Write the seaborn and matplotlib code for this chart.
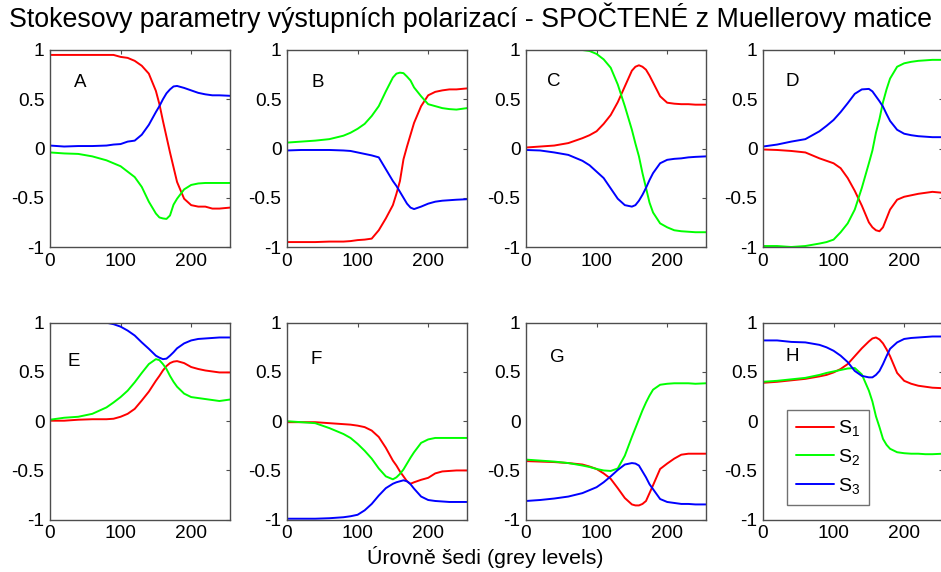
import numpy as np
import pandas as pd
import matplotlib
matplotlib.use("Agg")
import matplotlib.pyplot as plt
import seaborn as sns

# ---------------- data ----------------
GREY = [0, 20, 40, 60, 80, 90, 100, 110, 120, 130, 140, 150, 155, 160, 165,
        170, 175, 180, 190, 200, 210, 220, 230, 240, 255]

A_S1 = [0.95, 0.95, 0.95, 0.95, 0.95, 0.95, 0.93, 0.92, 0.89, 0.84, 0.76, 0.585, 0.45, 0.28, 0.12,
        -0.04, -0.19, -0.34, -0.51, -0.575, -0.59, -0.59, -0.61, -0.61, -0.60]
A_S2 = [-0.04, -0.05, -0.055, -0.08, -0.12, -0.15, -0.18, -0.235, -0.29, -0.39, -0.54, -0.66, -0.70, -0.71, -0.715,
        -0.68, -0.57, -0.51, -0.415, -0.37, -0.355, -0.35, -0.35, -0.35, -0.35]
A_S3 = [0.03, 0.02, 0.025, 0.025, 0.03, 0.04, 0.045, 0.07, 0.08, 0.14, 0.24, 0.37, 0.43, 0.50, 0.56,
        0.60, 0.63, 0.635, 0.615, 0.59, 0.565, 0.55, 0.54, 0.54, 0.535]

B_S1 = [-0.95, -0.95, -0.95, -0.945, -0.945, -0.94, -0.93, -0.925, -0.915, -0.83, -0.71, -0.575, -0.46, -0.33, -0.11,
        0.02, 0.14, 0.26, 0.43, 0.54, 0.575, 0.59, 0.60, 0.60, 0.61]
B_S2 = [0.06, 0.07, 0.08, 0.095, 0.13, 0.16, 0.20, 0.25, 0.33, 0.43, 0.58, 0.72, 0.76, 0.77, 0.765,
        0.73, 0.69, 0.62, 0.53, 0.45, 0.43, 0.41, 0.40, 0.395, 0.41]
B_S3 = [-0.02, -0.015, -0.015, -0.015, -0.02, -0.025, -0.04, -0.055, -0.07, -0.09, -0.21, -0.33, -0.38, -0.44, -0.50,
        -0.56, -0.60, -0.615, -0.59, -0.56, -0.54, -0.53, -0.525, -0.52, -0.515]

C_S1 = [0.01, 0.02, 0.03, 0.055, 0.105, 0.135, 0.175, 0.25, 0.34, 0.47, 0.63, 0.79, 0.83, 0.845, 0.83,
        0.80, 0.74, 0.67, 0.53, 0.465, 0.455, 0.45, 0.45, 0.445, 0.445]
C_S2 = [1.0, 1.0, 1.0, 1.0, 1.0, 0.99, 0.96, 0.905, 0.82, 0.65, 0.43, 0.19, 0.05, -0.08, -0.25,
        -0.40, -0.55, -0.65, -0.76, -0.80, -0.83, -0.84, -0.845, -0.85, -0.85]
C_S3 = [-0.015, -0.02, -0.04, -0.065, -0.125, -0.17, -0.235, -0.30, -0.405, -0.51, -0.575, -0.59, -0.575, -0.53, -0.47,
        -0.40, -0.32, -0.25, -0.15, -0.115, -0.105, -0.10, -0.09, -0.085, -0.08]

D_S1 = [-0.01, -0.015, -0.025, -0.04, -0.10, -0.125, -0.15, -0.20, -0.30, -0.43, -0.58, -0.75, -0.80, -0.83, -0.84,
        -0.80, -0.71, -0.62, -0.52, -0.49, -0.475, -0.46, -0.45, -0.44, -0.45]
D_S2 = [-0.99, -0.99, -1.0, -0.99, -0.965, -0.95, -0.925, -0.85, -0.76, -0.62, -0.40, -0.15, -0.02, 0.16, 0.30,
        0.47, 0.60, 0.71, 0.83, 0.865, 0.88, 0.89, 0.895, 0.90, 0.90]
D_S3 = [0.02, 0.04, 0.07, 0.095, 0.175, 0.23, 0.29, 0.37, 0.46, 0.555, 0.60, 0.605, 0.58, 0.53, 0.48,
        0.425, 0.35, 0.28, 0.19, 0.15, 0.135, 0.125, 0.12, 0.115, 0.115]

E_S1 = [0.005, 0.005, 0.015, 0.02, 0.02, 0.025, 0.045, 0.075, 0.125, 0.21, 0.30, 0.41, 0.46, 0.515, 0.56,
        0.59, 0.605, 0.61, 0.59, 0.55, 0.53, 0.515, 0.505, 0.495, 0.495]
E_S2 = [0.015, 0.035, 0.045, 0.075, 0.14, 0.19, 0.245, 0.31, 0.395, 0.49, 0.58, 0.63, 0.62, 0.58, 0.53,
        0.46, 0.40, 0.35, 0.28, 0.245, 0.235, 0.225, 0.215, 0.205, 0.22]
E_S3 = [1.10, 1.08, 1.06, 1.03, 1.0, 0.985, 0.96, 0.92, 0.87, 0.80, 0.735, 0.665, 0.645, 0.63, 0.635,
        0.665, 0.70, 0.74, 0.79, 0.82, 0.835, 0.84, 0.845, 0.85, 0.85]

F_S1 = [-0.01, -0.01, -0.01, -0.02, -0.03, -0.035, -0.045, -0.06, -0.095, -0.16, -0.27, -0.40, -0.45, -0.51, -0.56,
        -0.61, -0.635, -0.62, -0.595, -0.575, -0.53, -0.51, -0.505, -0.50, -0.50]
F_S2 = [0.0, -0.01, -0.02, -0.07, -0.13, -0.17, -0.23, -0.30, -0.38, -0.48, -0.56, -0.59, -0.57, -0.535, -0.49,
        -0.43, -0.37, -0.315, -0.22, -0.185, -0.17, -0.17, -0.17, -0.17, -0.17]
F_S3 = [-0.99, -0.99, -0.99, -0.985, -0.975, -0.965, -0.95, -0.905, -0.84, -0.755, -0.68, -0.635, -0.62, -0.61, -0.60,
        -0.61, -0.64, -0.685, -0.765, -0.80, -0.81, -0.815, -0.82, -0.82, -0.82]

G_S1 = [-0.405, -0.41, -0.415, -0.425, -0.44, -0.46, -0.485, -0.53, -0.585, -0.68, -0.78, -0.845, -0.855, -0.855, -0.84,
        -0.81, -0.73, -0.65, -0.485, -0.43, -0.38, -0.34, -0.33, -0.33, -0.33]
G_S2 = [-0.39, -0.40, -0.41, -0.425, -0.45, -0.465, -0.485, -0.50, -0.505, -0.48, -0.35, -0.16, -0.07, 0.02, 0.11,
        0.19, 0.26, 0.32, 0.37, 0.38, 0.385, 0.385, 0.385, 0.38, 0.385]
G_S3 = [-0.81, -0.80, -0.785, -0.765, -0.73, -0.70, -0.67, -0.62, -0.56, -0.495, -0.44, -0.425, -0.43, -0.45, -0.51,
        -0.57, -0.64, -0.69, -0.79, -0.82, -0.83, -0.84, -0.84, -0.845, -0.845]

H_S1 = [0.39, 0.40, 0.415, 0.43, 0.455, 0.47, 0.495, 0.53, 0.58, 0.66, 0.74, 0.81, 0.84, 0.85, 0.83,
        0.79, 0.73, 0.66, 0.49, 0.41, 0.38, 0.36, 0.35, 0.34, 0.335]
H_S2 = [0.40, 0.41, 0.425, 0.44, 0.47, 0.49, 0.505, 0.52, 0.535, 0.54, 0.475, 0.31, 0.20, 0.05, -0.06,
        -0.18, -0.24, -0.28, -0.315, -0.325, -0.33, -0.33, -0.335, -0.335, -0.33]
H_S3 = [0.82, 0.82, 0.805, 0.80, 0.775, 0.75, 0.715, 0.665, 0.60, 0.51, 0.46, 0.445, 0.445, 0.47, 0.51,
        0.58, 0.66, 0.735, 0.80, 0.835, 0.845, 0.85, 0.855, 0.86, 0.86]

PANELS = ["A", "B", "C", "D", "E", "F", "G", "H"]
SERIES = ["S1", "S2", "S3"]
LEGEND_LABELS = ["S$_1$", "S$_2$", "S$_3$"]
TITLE = "Stokesovy parametry výstupních polarizací - SPOČTENÉ z Muellerovy matice"
XLABEL = "Úrovně šedi (grey levels)"
XTICKS = [0, 100, 200]
YTICKS = [-1, -0.5, 0, 0.5, 1]
YTICKLABELS = ["-1", "-0.5", "0", "0.5", "1"]

PANEL_DATA = {
    "A": (A_S1, A_S2, A_S3), "B": (B_S1, B_S2, B_S3),
    "C": (C_S1, C_S2, C_S3), "D": (D_S1, D_S2, D_S3),
    "E": (E_S1, E_S2, E_S3), "F": (F_S1, F_S2, F_S3),
    "G": (G_S1, G_S2, G_S3), "H": (H_S1, H_S2, H_S3),
}
rows = []
for p in PANELS:
    for s, vals in zip(SERIES, PANEL_DATA[p]):
        for g, v in zip(GREY, vals):
            rows.append((p, s, g, v))
df = pd.DataFrame(rows, columns=["panel", "series", "grey", "value"])

# ---------------- style ----------------
sns.set_theme(style="white")
plt.rcParams["font.family"] = ["Liberation Sans", "DejaVu Sans"]
plt.rcParams["mathtext.fontset"] = "custom"
plt.rcParams["mathtext.rm"] = "Liberation Sans"
plt.rcParams["mathtext.it"] = "Liberation Sans"
plt.rcParams["axes.unicode_minus"] = False
plt.rcParams["text.color"] = "black"
plt.rcParams["xtick.labelcolor"] = "black"
plt.rcParams["ytick.labelcolor"] = "black"

PALETTE = {"S1": "#ff0000", "S2": "#00ff00", "S3": "#0000ff"}
EDGE = "#4d4d4d"

W, H = 941, 572
fig = plt.figure(figsize=(W / 100, H / 100), dpi=100)

col_left = [50, 287, 526, 763]
row_top = [50, 322.7]
ax_w, ax_h = 180, 197

label_pos = {"A": (43, 0.67), "B": (43, 0.67), "C": (40, 0.68), "D": (41, 0.68),
             "E": (34, 0.61), "F": (42, 0.63), "G": (45, 0.65), "H": (41, 0.655)}

axes = {}
for i, p in enumerate(PANELS):
    r, c = divmod(i, 4)
    left = col_left[c] / W
    bottom = 1 - (row_top[r] + ax_h) / H
    ax = fig.add_axes([left, bottom, ax_w / W, ax_h / H])
    axes[p] = ax
    sub = df[df["panel"] == p]
    sns.lineplot(data=sub, x="grey", y="value", hue="series", hue_order=SERIES,
                 palette=PALETTE, ax=ax, legend=False, linewidth=1.4,
                 estimator=None, sort=False)
    ax.set_xlim(0, 255)
    ax.set_ylim(-1, 1)
    ax.set_xticks(XTICKS)
    ax.set_xticklabels([str(t) for t in XTICKS])
    ax.set_yticks(YTICKS)
    ax.set_yticklabels(YTICKLABELS)
    ax.set_xlabel("")
    ax.set_ylabel("")
    ax.tick_params(direction="in", length=3, width=0.8, color=EDGE,
                   top=True, right=True, labelsize=13.8, pad=4, labelcolor="black")
    for sp in ax.spines.values():
        sp.set_color(EDGE)
        sp.set_linewidth(1.0)
    ax.text(*label_pos[p], p, fontsize=13.5, ha="center", va="center", color="black")

axH = axes["H"]
handles = axH.get_lines()[:3]
leg = axH.legend(handles, LEGEND_LABELS, loc="lower left",
                 bbox_to_anchor=(0.133, 0.076), fontsize=14,
                 frameon=True, fancybox=False, edgecolor=EDGE,
                 handlelength=1.95, handletextpad=0.25, labelspacing=0.45,
                 borderpad=0.45, borderaxespad=0)
leg.get_frame().set_linewidth(1.0)
for t in leg.get_texts():
    t.set_color("black")

fig.text(0.5, 1 - 18 / H, TITLE, ha="center", va="center", fontsize=19.3, color="black")
fig.text(485 / W, 1 - 557 / H, XLABEL, ha="center", va="center", fontsize=15.4, color="black")

fig.savefig("out.png", dpi=100)
